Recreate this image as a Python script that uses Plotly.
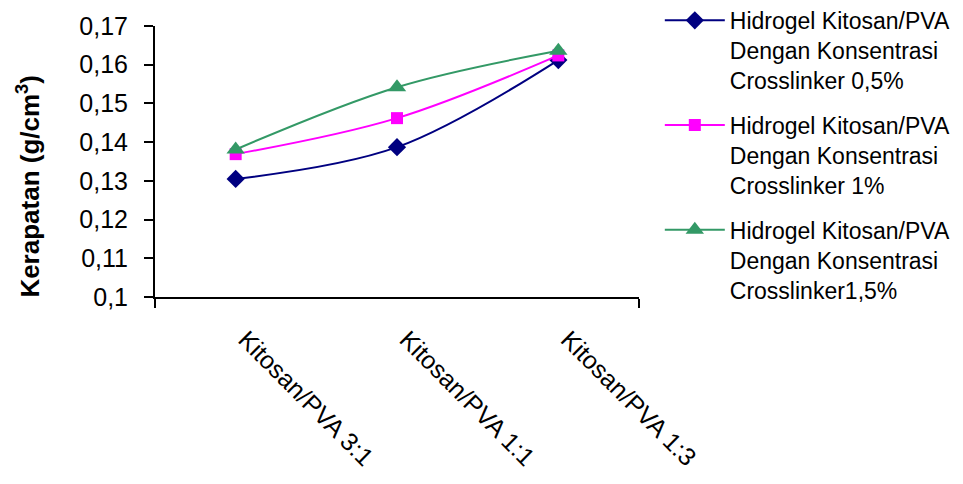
import plotly.graph_objects as go

categories = ["Kitosan/PVA 3:1", "Kitosan/PVA 1:1", "Kitosan/PVA 1:3"]
series_names = [
    "Hidrogel Kitosan/PVA<br>Dengan Konsentrasi<br>Crosslinker 0,5%",
    "Hidrogel Kitosan/PVA<br>Dengan Konsentrasi<br>Crosslinker 1%",
    "Hidrogel Kitosan/PVA<br>Dengan Konsentrasi<br>Crosslinker1,5%",
]
vals_05 = [0.1305, 0.1387, 0.1612]
vals_10 = [0.1369, 0.1462, 0.1624]
vals_15 = [0.1381, 0.1542, 0.1636]

colors = ["#000080", "#FF00FF", "#339966"]
symbols = ["diamond", "square", "triangle-up"]
sizes = [14, 12, 16]

FONT = "Arial, Liberation Sans, sans-serif"

fig = go.Figure()
for i, (name, vals) in enumerate(zip(series_names, [vals_05, vals_10, vals_15])):
    fig.add_trace(go.Scatter(
        x=list(range(len(categories))), y=vals, name=name,
        mode="lines+markers", legendgroup=f"g{i}",
        line=dict(color=colors[i], width=2, shape="spline", smoothing=1.0),
        marker=dict(symbol=symbols[i], size=sizes[i], color=colors[i]),
    ))

fig.update_layout(
    width=955, height=476,
    margin=dict(l=147, r=324, t=18, b=187, autoexpand=False),
    paper_bgcolor="white", plot_bgcolor="rgba(0,0,0,0)",
    separators=",.",
    font=dict(family=FONT, color="black", size=23),
    showlegend=True,
    legend=dict(
        x=1.043, y=1.1, xanchor="left", yanchor="top",
        valign="top", tracegroupgap=12, maxheight=1, itemwidth=60,
        font=dict(size=23, family=FONT), bgcolor="rgba(0,0,0,0)",
    ),
    xaxis=dict(
        range=[-0.5, 2.5], tickvals=list(range(len(categories))),
        ticktext=["\u00a0\u00a0" + c for c in categories],
        tickangle=45, ticks="", showline=True, linecolor="black", linewidth=2,
        showgrid=False, zeroline=False, ticklabelstandoff=6, automargin=False,
        tickfont=dict(size=25),
        minor=dict(tickvals=[-0.5, 2.5], ticks="outside", ticklen=9, tickwidth=2,
                   tickcolor="black", showgrid=False),
    ),
    yaxis=dict(
        range=[0.1, 0.17], dtick=0.01, ticks="outside", ticklen=9, tickwidth=2,
        tickcolor="black", showline=True, linecolor="black", linewidth=2,
        showgrid=False, zeroline=False, ticklabelstandoff=11, automargin=False,
        tickfont=dict(size=25),
    ),
    annotations=[dict(
        text="<b>Kerapatan (g/cm<sup>3</sup>)</b>", xref="paper", yref="paper",
        x=-0.262, y=0.408, xanchor="center", yanchor="middle", textangle=-90,
        showarrow=False, font=dict(size=26, family=FONT),
    )],
)

fig.write_html("out.html")
